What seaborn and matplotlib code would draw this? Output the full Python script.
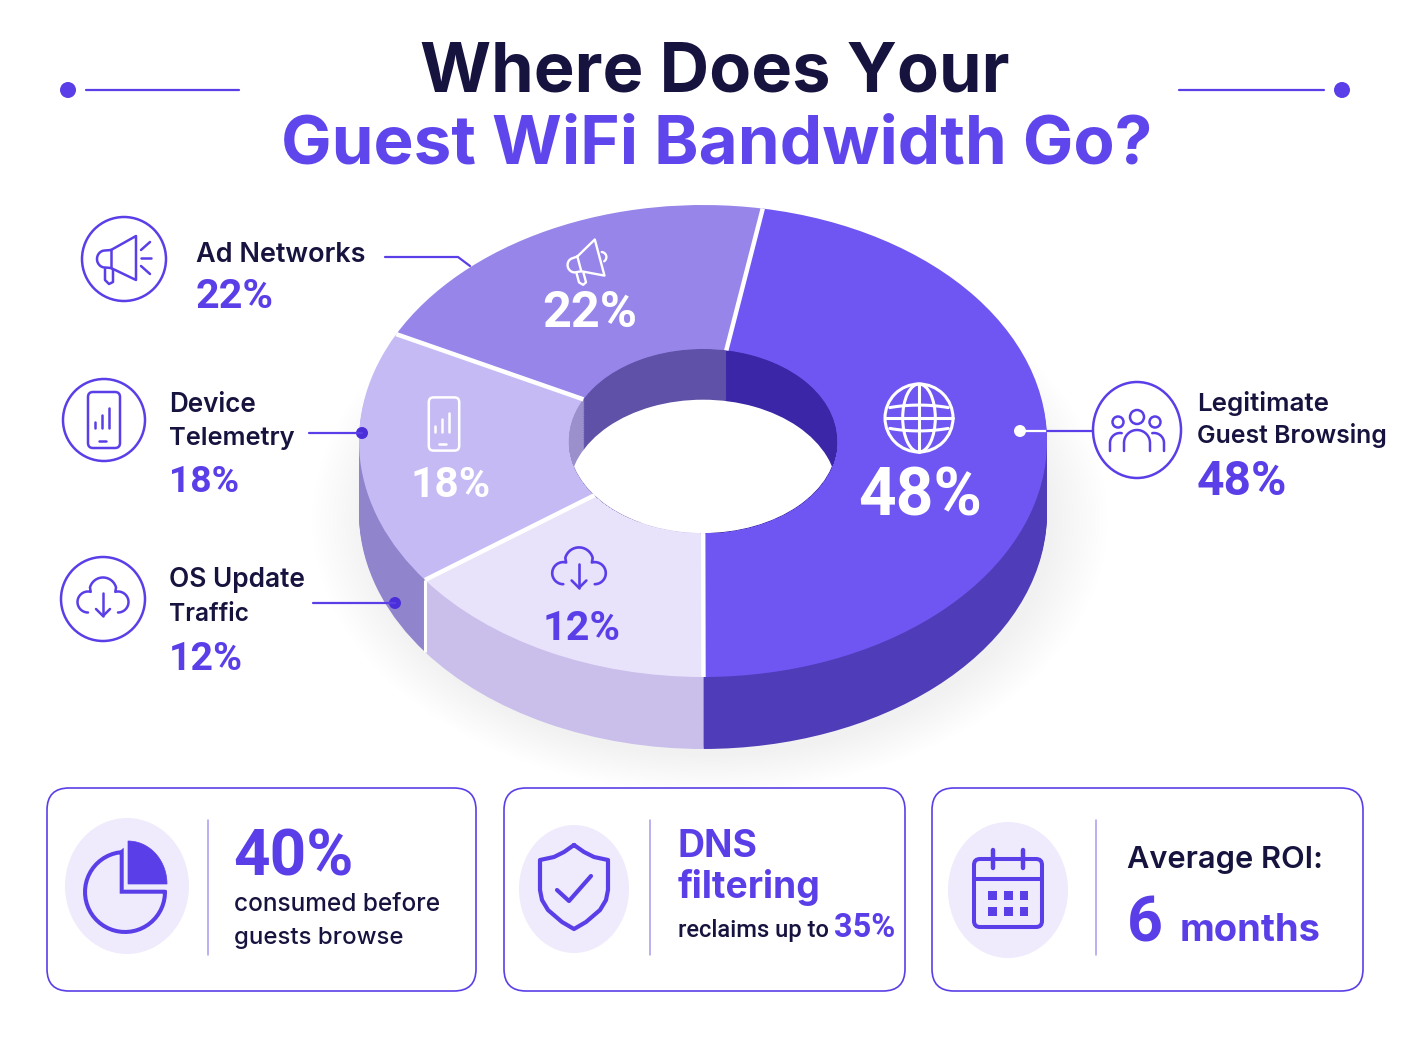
import numpy as np
import matplotlib
matplotlib.use("Agg")
import matplotlib.pyplot as plt
from matplotlib.patches import Circle, Ellipse, FancyBboxPatch, Polygon, Rectangle
import seaborn as sns

##Data
segment_names = ["Legitimate Guest Browsing", "OS Update Traffic", "Device Telemetry", "Ad Networks"]
segment_labels = ["48%", "12%", "18%", "22%"]
#share of the ring each slice takes as drawn in the picture
slice_shares = [47.2, 15.0, 17.5, 20.3]

title_lines = ["Where Does Your", "Guest WiFi Bandwidth Go?"]
card_big = ["40%", "DNS", "filtering", "35%", "6", "months"]
card_small = ["consumed before", "guests browse", "reclaims up to", "Average ROI:"]

##Style
sns.set_theme(style="white")
plt.rcParams["font.family"] = ["Inter", "Roboto", "DejaVu Sans"]

top_colors = sns.color_palette(["#6f56f3", "#e9e2fb", "#c6baf5", "#9785ea"])
side_colors = sns.color_palette(["#4f3cb8", "#c9bfea", "#9084cc", "#8475d0"])
wall_colors = sns.color_palette(["#3a26a6", "#d8d0f0", "#9b90cc", "#5f50a8"])
accent = "#5a3fe8"
dark = "#17133f"
soft = "#efeafc"
divider = "#a89bef"

W, H = 1408, 1056
fig = plt.figure(figsize=(W / 100, H / 100), dpi=100, facecolor="white")

##Donut: x -1..1 is px 359..1047, y -1..1 is px 677..205
ax = fig.add_axes([359 / W, 1 - 677 / H, 688 / W, 472 / H])
hole = 0.39
depth = 0.305
wall_depth = 0.215
start = 80

for k in range(14):
    ax.pie([1], radius=1 + k * 0.012, center=(0.02, -depth - 0.03), colors=["#3a2a90"],
           wedgeprops={"alpha": 0.0035, "linewidth": 0})

for d in np.linspace(depth, 0.01, 40):
    ax.pie(slice_shares, center=(0, -d), startangle=start, counterclock=False,
           colors=side_colors, wedgeprops={"linewidth": 0})

ax.pie(slice_shares, startangle=start, counterclock=False, colors=top_colors,
       wedgeprops={"width": 1 - hole, "linewidth": 0})

#inside wall of the hole, stacked downwards so the seams run vertical
hole_clip = Circle((0, 0), hole, transform=ax.transData)
hole_parts = []
for d in np.linspace(0, wall_depth, 30):
    hole_parts += ax.pie(slice_shares, radius=hole, center=(0, -d), startangle=start, counterclock=False,
                         colors=wall_colors, wedgeprops={"linewidth": 0})[0]
hole_parts += ax.pie([1], radius=hole, center=(0, -wall_depth), colors=["white"],
                     wedgeprops={"linewidth": 0})[0]

#white cuts between slices, follow the shares
angles = np.deg2rad(start - np.cumsum(slice_shares) * 3.6)
for a in angles:
    ax.plot([hole * np.cos(a), np.cos(a)], [hole * np.sin(a), np.sin(a)], color="white", lw=3.2,
            solid_capstyle="butt")
    if np.sin(a) < 0:
        ax.plot([np.cos(a), np.cos(a)], [np.sin(a), np.sin(a) - depth], color="white", lw=2.2,
                solid_capstyle="butt")
ax.set_aspect("auto")
ax.set_xlim(-1, 1)
ax.set_ylim(-1, 1)
ax.patch.set_alpha(0)
for p in ax.patches:
    p.set_clip_on(False)
for p in hole_parts:
    p.set_clip_on(True)
    p.set_clip_path(hole_clip)

##Overlay in pixel coordinates
ov = fig.add_axes([0, 0, 1, 1], facecolor="none")
ov.set_xlim(0, W)
ov.set_ylim(H, 0)
ov.axis("off")


def put(x, y, s, width, color=dark, weight="bold", size=20, family=None):
    t = ov.text(x, y, s, color=color, fontweight=weight, fontsize=size, ha="left", va="baseline")
    if family:
        t.set_fontfamily(family)
    ext = t.get_window_extent(fig.canvas.get_renderer())
    t.set_fontsize(size * width / ext.width)
    return t


def num(x, y, s, width, color=accent, size=30):
    return put(x, y, s, width, color=color, size=size, family="Roboto")


def line(xs, ys, color=accent, lw=1.8, ox=0, oy=0, s=1, rot=0):
    xs, ys = np.asarray(xs, float) * s, np.asarray(ys, float) * s
    r = np.deg2rad(rot)
    xr, yr = xs * np.cos(r) - ys * np.sin(r), xs * np.sin(r) + ys * np.cos(r)
    ov.plot(xr + ox, yr + oy, color=color, lw=lw, solid_capstyle="round", solid_joinstyle="round")


def arc(cx, cy, r, a0, a1, ry=None):
    t = np.deg2rad(np.linspace(a0, a1, 40))
    return cx + r * np.cos(t), cy + (ry or r) * np.sin(t)


def ring(cx, cy, rx, ry=None, color=accent, lw=1.8):
    ov.add_patch(Ellipse((cx, cy), 2 * rx, 2 * (ry or rx), fill=False, ec=color, lw=lw))


def megaphone(ox, oy, color=accent, s=1, rot=0, rays=True, lw=1.8):
    k = dict(color=color, ox=ox, oy=oy, s=s, rot=rot, lw=lw)
    bx, by = arc(-19, 0, 8, 90, 270, ry=8.5)
    line(np.r_[-13, 12, 12, -13, -19, bx, -13], np.r_[-9, -23, 21, 9, 8.5, by, -9], **k)
    line([-13, -13], [-9, 9], **k)
    line([-19, -19, -15, -11, -11], [10, 21, 25, 23, 11], **k)
    if rays:
        line([17, 26], [-9, -17], **k)
        line([17, 27], [-1, -1], **k)
        line([17, 26], [7, 15], **k)
    else:
        ax_, ay_ = arc(14, -1, 6, -70, 70)
        line(ax_, ay_, **k)


def phone(ox, oy, color=accent, s=1, lw=1.8):
    ov.add_patch(FancyBboxPatch((ox - 13 * s, oy - 25 * s), 26 * s, 50 * s,
                                boxstyle=f"round,pad={3 * s},rounding_size={5 * s}",
                                fill=False, ec=color, lw=lw))
    for bx, top in zip([-9, -2, 5], [2, -5, -12]):
        line([bx, bx], [8, top], color=color, ox=ox, oy=oy, s=s, lw=lw)
    line([-5, 2], [21, 21], color=color, ox=ox, oy=oy, s=s, lw=lw)


def cloud(ox, oy, color=accent, s=1, lw=1.8):
    x1, y1 = arc(-15, 3, 10.5, 90, 285)
    x2, y2 = arc(0, -8, 13.5, 195, 345)
    x3, y3 = arc(15, 3, 10.5, 255, 450)
    line(np.r_[x1, x2, x3], np.r_[y1, y2, y3], color=color, ox=ox, oy=oy, s=s, lw=lw)
    line([0, 0], [-6, 17], color=color, ox=ox, oy=oy, s=s, lw=lw)
    line([-7, 0, 7], [10, 17, 10], color=color, ox=ox, oy=oy, s=s, lw=lw)


def people(ox, oy, color=accent):
    k = dict(color=color, ox=ox, oy=oy)
    ring(ox, oy - 13, 7, color=color)
    ring(ox - 19, oy - 8, 5.5, color=color)
    ring(ox + 18, oy - 8, 5.5, color=color)
    x, y = arc(0, 13, 13, 180, 360)
    line(np.r_[-13, x, 13], np.r_[21, y, 21], **k)
    x, y = arc(-17, 13, 10, 180, 280)
    line(np.r_[-27, x], np.r_[21, y], **k)
    x, y = arc(17, 13, 10, 260, 360)
    line(np.r_[x, 27], np.r_[y, 21], **k)


def globe(ox, oy, r=34, color="white", lw=2.2):
    ring(ox, oy, r, color=color, lw=lw)
    ring(ox, oy, r * 0.48, r, color=color, lw=lw)
    line([0, 0], [-r, r], color=color, ox=ox, oy=oy, lw=lw)
    line([-r, r], [0, 0], color=color, ox=ox, oy=oy, lw=lw)
    xs = np.linspace(-r * 0.86, r * 0.86, 30)
    for sgn in [-1, 1]:
        line(xs, sgn * (r * 0.38 - 0.1 * r * (xs / r) ** 2), color=color, ox=ox, oy=oy, lw=lw)


##Title
ov.add_patch(Circle((68, 90), 8, color=accent, lw=0))
ov.add_patch(Circle((1342, 90), 8, color=accent, lw=0))
ov.plot([86, 239], [90, 90], color=accent, lw=1.6)
ov.plot([1179, 1324], [90, 90], color=accent, lw=1.6)
put(420, 92, title_lines[0], 590, size=50)
put(281, 163, title_lines[1], 871, color="#5f46ec", size=50)

##Left and right callouts
ring(124, 259, 42)
megaphone(124, 259)
put(196, 262, "Ad Networks", 170, weight="semibold")
num(196, 308, segment_labels[3], 78)
ov.plot([385, 458, 470], [257, 257, 266], color=accent, lw=1.6)

ring(104, 420, 41)
phone(104, 420)
put(169, 412, "Device", 87, weight="semibold")
put(169, 445, "Telemetry", 126, weight="semibold")
num(169, 492, segment_labels[2], 70)
ov.plot([309, 362], [433, 433], color=accent, lw=1.6)
ov.add_patch(Circle((362, 433), 6, color="#4a2fd8", lw=0))

ring(103, 599, 42)
cloud(103, 599)
put(169, 587, "OS Update", 136, weight="semibold")
put(169, 621, "Traffic", 80, weight="semibold")
num(169, 670, segment_labels[1], 74)
ov.plot([313, 395], [603, 603], color=accent, lw=1.6)
ov.add_patch(Circle((395, 603), 6, color="#4a2fd8", lw=0))

ring(1137, 430, 44, 48)
people(1137, 430)
put(1197, 411, "Legitimate", 132, weight="semibold")
put(1197, 443, "Guest Browsing", 190, weight="semibold")
num(1197, 495, segment_labels[0], 90)
ov.plot([1020, 1047], [431, 431], color="white", lw=1.6)
ov.plot([1047, 1093], [431, 431], color=accent, lw=1.6)
ov.add_patch(Circle((1020, 431), 6, color="white", lw=0))

##Labels on the slices
megaphone(590, 261, color="white", s=0.85, rot=-15, rays=False, lw=1.7)
num(542, 327, segment_labels[3], 95, color="white")
phone(444, 424, color="white", s=0.95, lw=1.8)
num(411, 497, segment_labels[2], 80, color="white")
cloud(579, 570, s=1.05, lw=1.9)
num(543, 640, segment_labels[1], 78)
globe(919, 418)
num(858, 516, segment_labels[0], 124, color="white", size=45)


##Cards
def card(x0, x1, cx, rx, ry, cy, div):
    ov.add_patch(FancyBboxPatch((x0 + 22, 788 + 22), x1 - x0 - 44, 203 - 44,
                                boxstyle="round,pad=22,rounding_size=22", fc="white", ec=accent, lw=1.2))
    ov.add_patch(Ellipse((cx, cy), 2 * rx, 2 * ry, fc=soft, ec="none"))
    ov.plot([div, div], [820, 955], color=divider, lw=1.1)


card(47, 476, 127, 62, 68, 886, 208)
card(504, 905, 574, 55, 64, 889, 650)
card(932, 1363, 1008, 60, 68, 890, 1096)

#pie icon
x, y = arc(125, 892, 40, 0, 265)
ov.plot(np.r_[x, 121.7, 121.7, x[0]], np.r_[y, 852, 891.7, 891.7], color=accent, lw=2.9, solid_joinstyle="miter")
x, y = arc(128, 884, 39, 270, 360, ry=43)
ov.add_patch(Polygon(np.c_[np.r_[128, x], np.r_[884, y]], closed=True, fc=accent, ec=accent, lw=0.5))

#shield icon
sx = np.array([0, -10, -20, -34, -34, -32, -26, -12, 0, 12, 26, 32, 34, 34, 20, 10, 0])
sy = np.array([-43, -36, -31, -28, 2, 12, 22, 34, 41, 34, 22, 12, 2, -28, -31, -36, -43])
line(sx, sy, ox=574, oy=888, lw=3)
line([-17, -5, 17], [2, 13, -12], ox=574, oy=888, lw=3)

#calendar icon
ov.add_patch(FancyBboxPatch((978, 863), 60, 60, boxstyle="round,pad=4,rounding_size=6", fill=False, ec=accent, lw=2.9))
ov.plot([974, 1042], [879, 879], color=accent, lw=2.9)
for cx_ in [993, 1023]:
    ov.plot([cx_, cx_], [850, 868], color=accent, lw=3.2, solid_capstyle="round")
for cx_ in [988, 1004, 1019.5]:
    for cy_ in [891, 907]:
        ov.add_patch(Rectangle((cx_, cy_), 8.5, 8.5, fc=accent, ec="none"))

num(233, 875, card_big[0], 120, size=45)
put(234, 911, card_small[0], 206, weight="medium")
put(234, 944, card_small[1], 169, weight="medium")
put(678, 857, card_big[1], 80, color=accent, size=27)
put(678, 898, card_big[2], 143, color=accent, size=27)
put(678, 937, card_small[2], 151, weight="medium", size=18, family="Roboto")
num(834, 937, card_big[3], 61, size=22)
put(1127, 868, card_small[3], 196, weight="semibold", size=24)
num(1127, 941, card_big[4], 36, size=47)
put(1180, 941, card_big[5], 141, color=accent, size=28)

fig.savefig("out.png", dpi=100, facecolor="white")
